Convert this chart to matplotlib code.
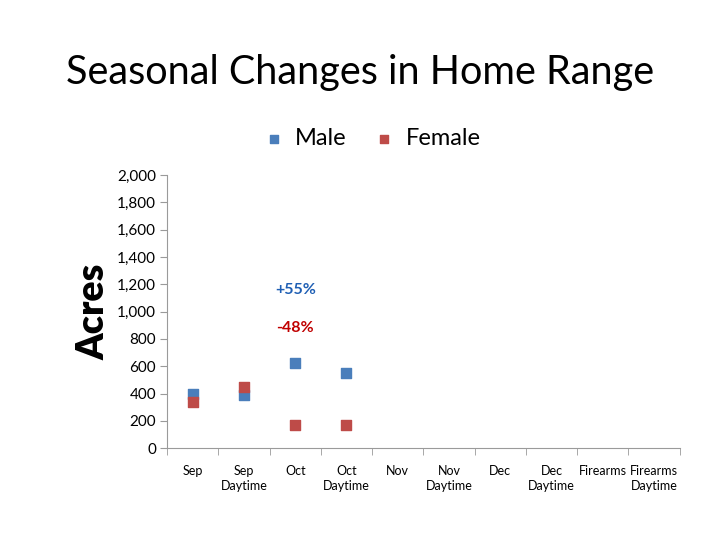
import matplotlib
matplotlib.use('Agg')
import matplotlib.pyplot as plt
import numpy as np

plt.rcParams['font.family'] = ['Lato', 'DejaVu Sans']

categories = ['Sep', 'Sep\nDaytime', 'Oct', 'Oct\nDaytime', 'Nov', 'Nov\nDaytime',
              'Dec', 'Dec\nDaytime', 'Firearms', 'Firearms\nDaytime']
male = [400, 390, 625, 553]
female = [335, 450, 170, 170]
male_color = '#4a7ebb'
female_color = '#be4b48'

fig = plt.figure(figsize=(7.2, 5.4), dpi=100)
ax = fig.add_axes([0.232, 0.170, 0.712, 0.506])

x = np.arange(len(categories))
ax.scatter(x[:len(male)], male, marker='s', s=60, color=male_color, label='Male', zorder=3)
ax.scatter(x[:len(female)], female, marker='s', s=60, color=female_color, label='Female', zorder=3)

ax.text(2, 1157, '+55%', color='#1f5fb4', fontsize=11.5, fontweight='bold', ha='center', va='center')
ax.text(2, 879, '-48%', color='#c00000', fontsize=11.5, fontweight='bold', ha='center', va='center')

ax.set_xlim(-0.5, len(categories) - 0.5)
ax.set_ylim(0, 2000)
ax.set_yticks(np.arange(0, 2001, 200))
ax.set_yticklabels([f'{v:,}' for v in range(0, 2001, 200)], fontsize=11)
ax.set_xticks(x)
ax.set_xticklabels(categories, fontsize=9, va='top', linespacing=1.3)
ax.set_xticks(np.arange(-0.5, len(categories)), minor=True)
ax.tick_params(axis='x', which='major', length=0, pad=12)
ax.tick_params(axis='x', which='minor', length=5, color='#9a9a9a')
ax.tick_params(axis='y', length=5, color='#9a9a9a', pad=3)

for s in ['top', 'right']:
    ax.spines[s].set_visible(False)
for s in ['left', 'bottom']:
    ax.spines[s].set_color('#9a9a9a')

ax.set_ylabel('Acres', fontsize=27, fontweight='heavy', labelpad=5)

fig.text(0.5, 0.866, 'Seasonal Changes in Home Range', fontsize=28.5, ha='center', va='center')
fig.legend(loc='center', bbox_to_anchor=(0.517, 0.743), ncol=2, frameon=False,
           fontsize=17, handlelength=0.8, handletextpad=0.5, columnspacing=1.2, markerscale=0.8)

fig.savefig('out.png', dpi=100)
